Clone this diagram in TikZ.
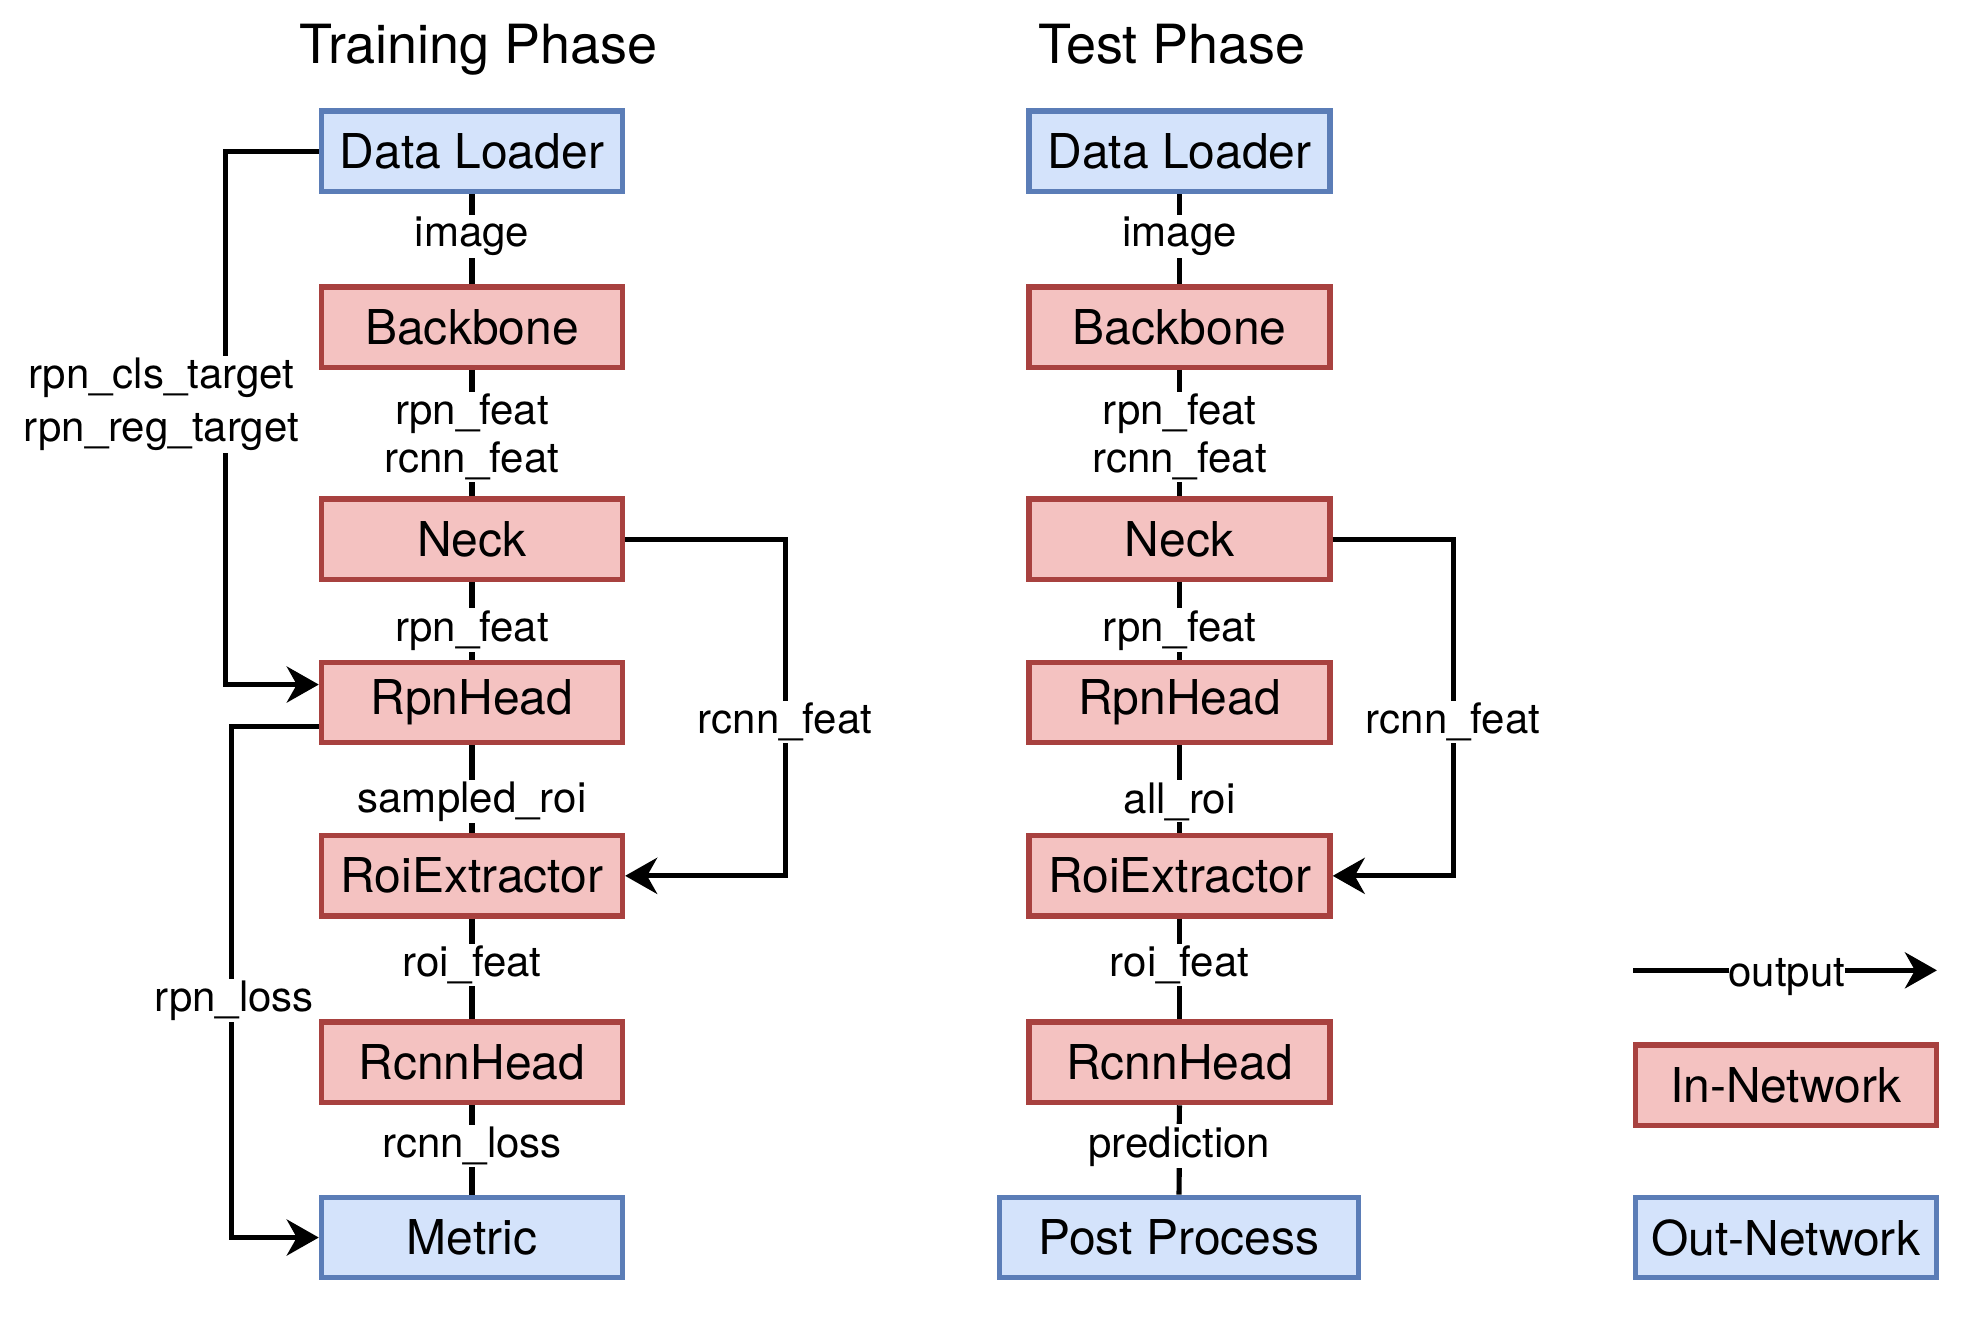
\documentclass[tikz,border=0pt]{standalone}
\usepackage{fontspec}
\setmainfont{TeX Gyre Heros}
\usetikzlibrary{arrows.meta,calc}
\definecolor{redfill}{HTML}{F4C2C1}
\definecolor{redline}{HTML}{A8413F}
\definecolor{bluefill}{HTML}{D4E3FB}
\definecolor{blueline}{HTML}{5B7DB7}
\begin{document}
\begin{tikzpicture}[x=0.6302pt,y=-0.6302pt,
 box/.style={draw, line width=2.7pt, minimum width=150.5pt, minimum height=40.2pt, inner sep=0pt, font=\fontsize{24}{28}\selectfont},
 innet/.style={box, fill=redfill, draw=redline},
 outnet/.style={box, fill=bluefill, draw=blueline},
 lbl/.style={fill=white, inner sep=1pt, font=\fontsize{21}{24}\selectfont, align=center},
 conn/.style={line width=2.6pt},
 arr/.style={conn, -{Stealth[length=16pt,width=18pt,inset=5pt]}},
 ttl/.style={font=\fontsize{27}{32}\selectfont, anchor=base}
]
\useasboundingbox (0,0) rectangle (1568,1046);

% titles
\node[ttl] (ttrain) at (380,50) {Training Phase};
\node[ttl] (ttest) at (930,50) {Test Phase};

% training column
\node[outnet] (tdl)  at (374.5,120)   {Data Loader};
\node[innet]  (tbb)  at (374.5,259.5) {Backbone};
\node[innet]  (tnk)  at (374.5,428)   {Neck};
\node[innet]  (trpn) at (374.5,557.5) {RpnHead};
\node[innet]  (troi) at (374.5,695)   {RoiExtractor};
\node[innet]  (trc)  at (374.5,843)   {RcnnHead};
\node[outnet] (tmet) at (374.5,982)   {Metric};

\draw[conn] (tdl) -- node[lbl,pos=0.47]{image} (tbb);
\draw[conn] (tbb) -- node[lbl,pos=0.53]{rpn\_feat\\rcnn\_feat} (tnk);
\draw[conn] (tnk) -- node[lbl,pos=0.62]{rpn\_feat} (trpn);
\draw[conn] (trpn) -- node[lbl,pos=0.64]{sampled\_roi} (troi);
\draw[conn] (troi) -- node[lbl,pos=0.46]{roi\_feat} (trc);
\draw[conn] (trc) -- node[lbl,pos=0.46]{rcnn\_loss} (tmet);

\draw[arr] (tdl.west) -- ++(-74,0) |- ($(trpn.north west)!0.29!(trpn.south west)$);
\node[lbl, font=\fontsize{21}{26.5}\selectfont] (ltgt) at (128,321) {rpn\_cls\_target\\rpn\_reg\_target};

\draw[arr] ($(trpn.north west)!0.78!(trpn.south west)$) -- ++(-69,0) |- (tmet.west);
\node[lbl] (lrpnloss) at (186,794) {rpn\_loss};

\draw[arr] (tnk.east) -- ++(127,0) |- (troi.east);
\node[lbl] (ltrcnn) at (623,573) {rcnn\_feat};

% test column
\node[outnet] (edl)  at (936,120)   {Data Loader};
\node[innet]  (ebb)  at (936,259.5) {Backbone};
\node[innet]  (enk)  at (936,428)   {Neck};
\node[innet]  (erpn) at (936,557.5) {RpnHead};
\node[innet]  (eroi) at (936,695)   {RoiExtractor};
\node[innet]  (erc)  at (936,843)   {RcnnHead};
\node[outnet, minimum width=179.5pt] (epp) at (935.5,982) {Post Process};

\draw[conn] (edl) -- node[lbl,pos=0.47]{image} (ebb);
\draw[conn] (ebb) -- node[lbl,pos=0.53]{rpn\_feat\\rcnn\_feat} (enk);
\draw[conn] (enk) -- node[lbl,pos=0.62]{rpn\_feat} (erpn);
\draw[conn] (erpn) -- node[lbl,pos=0.64]{all\_roi} (eroi);
\draw[conn] (eroi) -- node[lbl,pos=0.46]{roi\_feat} (erc);
\draw[conn] (erc) -- node[lbl,pos=0.46]{prediction} (epp);

\draw[arr] (enk.east) -- ++(96,0) |- (eroi.east);
\node[lbl] (lercnn) at (1153,573) {rcnn\_feat};

% legend
\coordinate (lgs) at (1296,770);
\coordinate (lge) at (1537,770);
\draw[arr] (lgs) -- (lge);
\node[lbl, inner sep=0pt] (lgout) at (1418,775) {output};
\node[innet]  (lgin)  at (1417,861) {In-Network};
\node[outnet] (lgoutn) at (1417,982) {Out-Network};
\end{tikzpicture}
\end{document}
